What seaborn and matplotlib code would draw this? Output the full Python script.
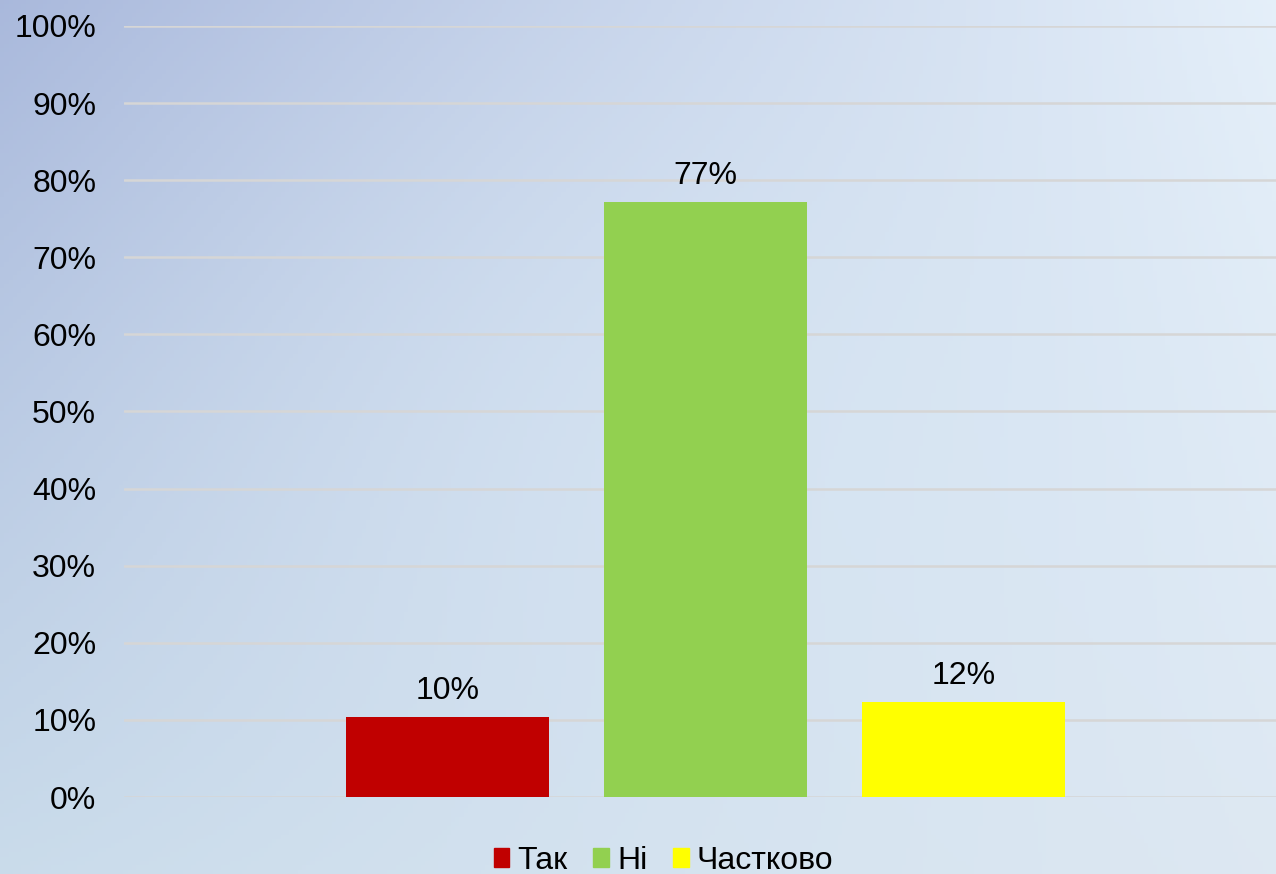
import numpy as np
import pandas as pd
import matplotlib.pyplot as plt
import matplotlib.patches as mpatches
from matplotlib.ticker import PercentFormatter
import seaborn as sns

# ==========================================
# DATA
# ==========================================
categories = ["Так", "Ні", "Частково"]
values = [10.4, 77.2, 12.3]
colors = ["#c00000", "#92d050", "#ffff00"]
y_ticks = [0, 10, 20, 30, 40, 50, 60, 70, 80, 90, 100]

df = pd.DataFrame({"answer": categories, "share": values})

# ==========================================
# FIGURE + BACKGROUND
# ==========================================
sns.set_theme(style="white")
plt.rcParams['font.family'] = ['Liberation Sans', 'DejaVu Sans']

fig = plt.figure(figsize=(12.76, 8.74), dpi=100)

# soft slide-like gradient behind the chart
bg = fig.add_axes([0, 0, 1, 1], zorder=0)
bg.axis('off')
h, w = 200, 300
yy, xx = np.mgrid[0:1:h * 1j, 0:1:w * 1j]
tl = np.array([0.66, 0.72, 0.86])
tr = np.array([0.90, 0.94, 0.98])
bl = np.array([0.79, 0.86, 0.92])
br = np.array([0.87, 0.91, 0.95])
mid = np.array([0.85, 0.91, 0.96])
img = ((1 - xx)[..., None] * (1 - yy)[..., None] * tl
       + xx[..., None] * (1 - yy)[..., None] * tr
       + (1 - xx)[..., None] * yy[..., None] * bl
       + xx[..., None] * yy[..., None] * br)
# pull the centre toward a light cyan-blue
wmid = np.exp(-(((xx - 0.6) / 0.45) ** 2 + ((yy - 0.5) / 0.45) ** 2))[..., None]
img = img * (1 - 0.5 * wmid) + mid * 0.5 * wmid
bg.imshow(np.clip(img, 0, 1), aspect='auto', extent=[0, 1, 0, 1], origin='upper')
bg.set_xlim(0, 1)
bg.set_ylim(0, 1)

# ==========================================
# BAR CHART
# ==========================================
ax = fig.add_axes([0.0972, 0.0881, 0.9028, 0.8822], zorder=1)
ax.patch.set_alpha(0)

sns.barplot(data=df, x="answer", y="share", hue="answer",
            palette=colors, width=0.787, legend=False, saturation=1,
            linewidth=0, ax=ax)

ax.set_ylim(0, 100)
ax.set_xlim(-1.254, 3.21)
ax.set_yticks(y_ticks)
ax.yaxis.set_major_formatter(PercentFormatter(decimals=0))
ax.tick_params(axis='y', labelsize=23, length=0, pad=20, colors='black')
ax.set_xticks([])
ax.set_xlabel("")
ax.set_ylabel("")
ax.grid(axis='y', color='#d6d6d6', linewidth=1.8)
ax.set_axisbelow(True)
for s in ax.spines.values():
    s.set_visible(False)

for cont in ax.containers:
    ax.bar_label(cont, fmt="%.0f%%", padding=8, fontsize=23, color='black')

# legend at the bottom
handles = [mpatches.Patch(color=c, label=l) for c, l in zip(colors, categories)]
leg = fig.legend(handles=handles, loc='lower center', bbox_to_anchor=(0.52, -0.035),
                 ncol=3, frameon=False, fontsize=23, handlelength=0.5, handleheight=0.5,
                 handletextpad=0.25, columnspacing=0.8)
for t in leg.get_texts():
    t.set_color('black')

plt.savefig('out.png', dpi=100)
